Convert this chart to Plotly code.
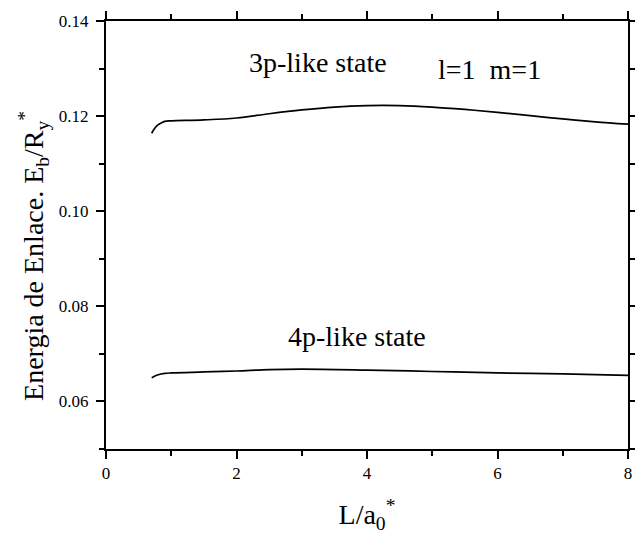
import plotly.graph_objects as go

# Binding energy vs. well width for the l=1, m=1 states
L_3p = [0.70, 0.75, 0.80, 0.85, 0.90, 1.0, 1.5, 2.0, 2.5, 3.0, 3.5, 4.0,
        4.5, 5.0, 5.5, 6.0, 6.5, 7.0, 7.5, 8.0]
E_3p = [0.1164, 0.1175, 0.1182, 0.1186, 0.1189, 0.1190, 0.1192, 0.1196,
        0.1205, 0.1213, 0.1219, 0.1222, 0.1222, 0.1219, 0.1214, 0.1208,
        0.1201, 0.1194, 0.1188, 0.1183]

L_4p = [0.70, 0.80, 0.90, 1.0, 1.5, 2.0, 2.5, 3.0, 4.0, 5.0, 6.0, 7.0, 8.0]
E_4p = [0.0650, 0.0656, 0.0659, 0.0660, 0.0662, 0.0664, 0.0667, 0.0668,
        0.0666, 0.0663, 0.0660, 0.0658, 0.0655]

x_ticks = [0, 2, 4, 6, 8]
y_ticks = [0.06, 0.08, 0.10, 0.12, 0.14]

FONT = "Liberation Serif"

fig = go.Figure()
for xs, ys in ((L_3p, E_3p), (L_4p, E_4p)):
    fig.add_trace(go.Scatter(
        x=xs, y=ys, mode="lines", line=dict(color="black", width=1.7, shape="spline"),
        showlegend=False, hoverinfo="skip",
    ))

axis_common = dict(
    showline=True, linecolor="black", linewidth=2, mirror="ticks",
    ticks="outside", ticklen=8, tickwidth=1.5, tickcolor="black",
    showgrid=False, zeroline=False, automargin=False,
    tickfont=dict(family=FONT, size=17, color="black"),
)

fig.update_xaxes(
    range=[0, 8], tickvals=x_ticks, ticktext=[str(v) for v in x_ticks],
    minor=dict(dtick=1, ticklen=5, tickwidth=1.5, tickcolor="black", ticks="outside"),
    title=dict(text="L/a<sub>0</sub><sup>*</sup>", font=dict(family=FONT, size=28, color="black"),
               standoff=22),
    **axis_common,
)
fig.update_yaxes(
    range=[0.05, 0.14], tickvals=y_ticks, ticktext=[f"{v:.2f}" for v in y_ticks],
    minor=dict(dtick=0.01, tick0=0.05, ticklen=5, tickwidth=1.5, tickcolor="black", ticks="outside"),
    ticklabelstandoff=4,
    **axis_common,
)

# Vertical axis title, placed as a rotated annotation
fig.add_annotation(
    xref="paper", yref="paper", x=0, y=0.451, xshift=-72,
    text="Energia de Enlace. E<sub>b</sub>/R<sub>y</sub><sup>*</sup>",
    textangle=-90, showarrow=False, xanchor="center", yanchor="middle",
    font=dict(family=FONT, size=28, color="black"),
)

labels = [
    ("3p-like state", 3.25, 0.1312),
    ("l=1  m=1", 5.87, 0.1297),
    ("4p-like state", 3.85, 0.0737),
]
for text, x, y in labels:
    fig.add_annotation(x=x, y=y, text=text, showarrow=False,
                       font=dict(family=FONT, size=28, color="black"))

fig.update_layout(
    width=635, height=535,
    margin=dict(l=106, r=7, t=21, b=86),
    plot_bgcolor="white", paper_bgcolor="white",
)

fig.write_html("out.html")
